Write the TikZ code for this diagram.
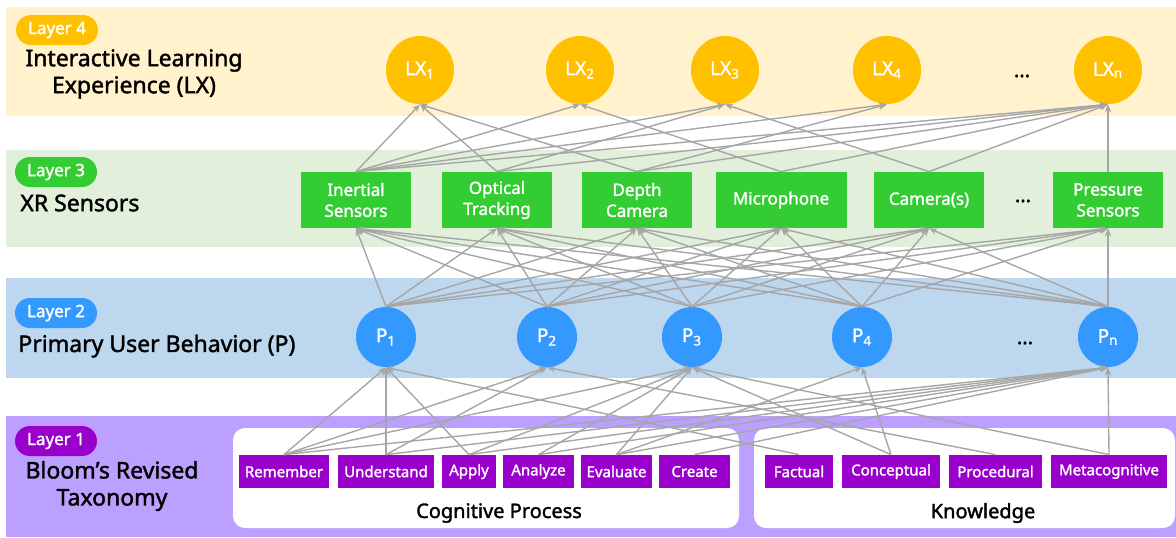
\documentclass[tikz,border=0pt]{standalone}
\usepackage{fontspec}
\setmainfont{Noto Sans}[FakeBold=1.6]
\usetikzlibrary{arrows.meta}

\definecolor{lxband}{HTML}{FFF2CC}
\definecolor{lxfill}{HTML}{FFC000}
\definecolor{xrband}{HTML}{E2EFDA}
\definecolor{xrfill}{HTML}{33CC33}
\definecolor{pband}{HTML}{BDD7EE}
\definecolor{pfill}{HTML}{3399FF}
\definecolor{bband}{HTML}{BBA0FF}
\definecolor{bfill}{HTML}{9900CC}
\definecolor{edgegray}{HTML}{A6A6A6}

\tikzset{
	badge/.style={fill=#1, text=white, rounded corners=7.5pt, minimum width=41pt,
		minimum height=15pt, inner sep=0pt, font=\fontsize{8.5}{10}\selectfont},
	title/.style={text=black, align=center, inner sep=0pt, font=\fontsize{11.5}{13.5}\selectfont},
	lxnode/.style={circle, fill=lxfill, text=white, minimum size=34pt, inner sep=0pt,
		font=\fontsize{9.5}{11}\selectfont},
	pnode/.style={circle, fill=pfill, text=white, minimum size=30pt, inner sep=0pt,
		font=\fontsize{9.5}{11}\selectfont},
	sensor/.style={fill=xrfill, text=white, minimum width=55pt, minimum height=28pt,
		inner sep=0pt, align=center, font=\fontsize{8.5}{10.5}\selectfont},
	bloom/.style={fill=bfill, text=white, minimum height=16.5pt, inner sep=0pt,
		font=\fontsize{7.5}{9}\selectfont},
	edge/.style={draw=edgegray, line width=0.7pt, -{Stealth[length=4pt,width=3.2pt]}},
	dots/.style={inner sep=0pt, font=\fontsize{10}{12}\selectfont},
}

\begin{document}
\begin{tikzpicture}[x=0.5pt, y=-0.5pt]

	\useasboundingbox (0,0) rectangle (1176,537);

	% ---- bands

	\fill[lxband] (6,7) rectangle (1176,116);
	\fill[xrband] (6,150) rectangle (1176,247);
	\fill[pband] (6,278) rectangle (1176,378);
	\fill[bband] (6,416) rectangle (1176,537);

	\fill[white, rounded corners=6pt] (233,428) rectangle (739,528);
	\fill[white, rounded corners=6pt] (754,428) rectangle (1175,528);

	% ---- layer labels

	\node[badge=lxfill] (b4) at (57,30) {Layer 4};
	\node[badge=xrfill] (b3) at (56,172) {Layer 3};
	\node[badge=pfill] (b2) at (56,313) {Layer 2};
	\node[badge=bfill] (b1) at (56,441) {Layer 1};

	\node[title] (t4) at (134,74) {Interactive Learning\\Experience (LX)};
	\node[title, anchor=west] (t3) at (20,203) {XR Sensors};
	\node[title, anchor=west] (t2) at (18,346) {Primary User Behavior (P)};
	\node[title] (t1) at (112,486) {Bloom’s Revised\\Taxonomy};

	% ---- layer 4

	\node[lxnode] (lx1) at (420,70) {LX\textsubscript{1}};
	\node[lxnode] (lx2) at (580,70) {LX\textsubscript{2}};
	\node[lxnode] (lx3) at (725,70) {LX\textsubscript{3}};
	\node[lxnode] (lx4) at (887,70) {LX\textsubscript{4}};
	\node[lxnode] (lxn) at (1108,70) {LX\textsubscript{n}};
	\node[dots] (d4) at (1022,76) {...};

	% ---- layer 3

	\node[sensor] (ine) at (356,200) {Inertial\\Sensors};
	\node[sensor] (opt) at (497,200) {Optical\\Tracking};
	\node[sensor] (dep) at (637,200) {Depth\\Camera};
	\node[sensor, minimum width=65.5pt] (mic) at (781,200) {Microphone};
	\node[sensor] (cam) at (929,200) {Camera(s)};
	\node[sensor] (pre) at (1108,200) {Pressure\\Sensors};
	\node[dots] (d3) at (1023,201) {...};

	% ---- layer 2

	\node[pnode] (p1) at (386,337) {P\textsubscript{1}};
	\node[pnode] (p2) at (547,337) {P\textsubscript{2}};
	\node[pnode] (p3) at (692,337) {P\textsubscript{3}};
	\node[pnode] (p4) at (862,337) {P\textsubscript{4}};
	\node[pnode] (pn) at (1108,337) {P\textsubscript{n}};
	\node[dots] (d2) at (1025,343) {...};

	% ---- layer 1

	\node[bloom, minimum width=45pt] (rem) at (284,471.5) {Remember};
	\node[bloom, minimum width=48pt] (und) at (386,471.5) {Understand};
	\node[bloom, minimum width=27pt] (app) at (469,471.5) {Apply};
	\node[bloom, minimum width=35.5pt] (ana) at (538.5,471.5) {Analyze};
	\node[bloom, minimum width=35.5pt] (eva) at (616.5,471.5) {Evaluate};
	\node[bloom, minimum width=35.5pt] (cre) at (694.5,471.5) {Create};
	\node[bloom, minimum width=34pt] (fac) at (799,471.5) {Factual};
	\node[bloom, minimum width=49pt] (con) at (891,471.5) {Conceptual};
	\node[bloom, minimum width=46.5pt] (pro) at (995.5,471.5) {Procedural};
	\node[bloom, minimum width=58pt] (met) at (1109,471.5) {Metacognitive};

	\node[title, font=\fontsize{10}{12}\selectfont] (cog) at (499,513) {Cognitive Process};
	\node[title, font=\fontsize{10}{12}\selectfont] (kno) at (983,513) {Knowledge};

	% ---- edges: layer 1 -> layer 2

	\foreach \a/\b in {rem/p1, rem/p2, rem/p3, rem/pn, und/p1, und/p2, und/pn,
		app/p1, app/p3, app/pn, ana/p3, ana/pn, eva/p3, eva/p4, eva/pn, cre/pn,
		fac/p1, con/p3, con/p4, pro/p2, met/p3, met/pn}
		\draw[edge] (\a.north) -- (\b.south);

	% ---- edges: layer 2 -> layer 3

	\foreach \a in {p1,p2,p3,p4,pn}
		\foreach \b in {ine,opt,dep,mic,cam,pre}
			\draw[edge] (\a.north) -- (\b.south);

	% ---- edges: layer 3 -> layer 4

	\foreach \a/\b in {ine/lx1, ine/lx2, ine/lx3, ine/lx4, ine/lxn,
		opt/lx1, opt/lx3, opt/lxn, dep/lx1, dep/lx4, dep/lxn,
		mic/lx2, mic/lxn, cam/lx3, cam/lxn, pre/lxn}
		\draw[edge] (\a.north) -- (\b.south);

\end{tikzpicture}
\end{document}
